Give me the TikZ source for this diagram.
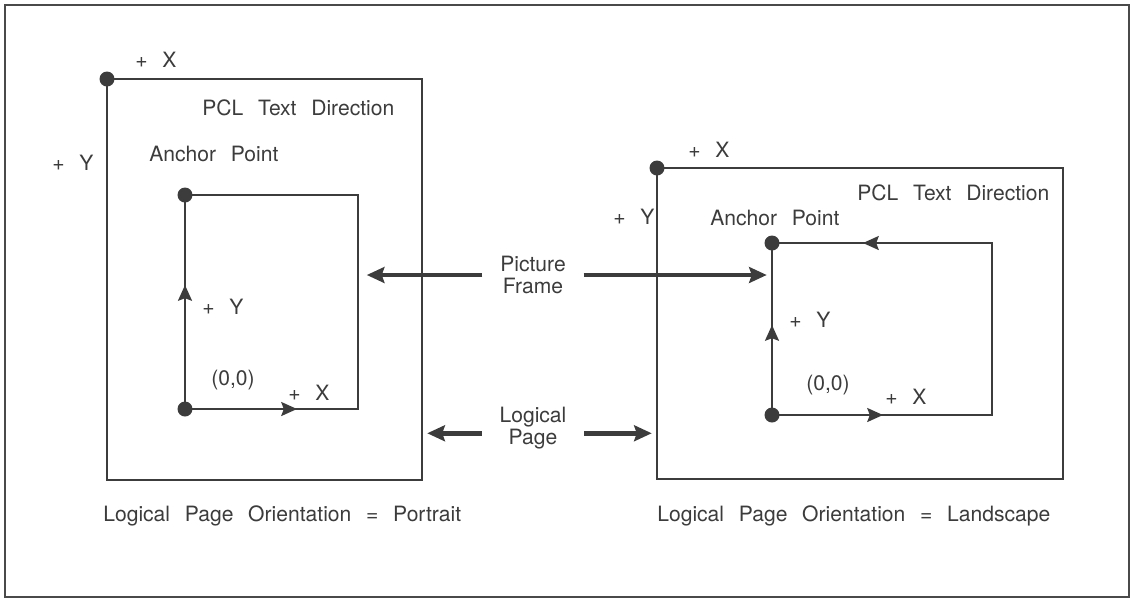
\documentclass[tikz,border=0pt]{standalone}
\usepackage{fontspec}
\setmainfont{TeX Gyre Heros}
\usepackage{xcolor}
\usetikzlibrary{arrows.meta,positioning}
\definecolor{ink}{HTML}{3C3C3C}
\definecolor{rim}{HTML}{4A4A4A}
\newcommand{\pclfont}{\fontsize{12}{12.5}\selectfont\spaceskip=0.7em plus 0.1em minus 0.1em}
\tikzset{
  pg/.style={draw=ink, line width=1.1pt},
  rimline/.style={draw=rim, line width=1.2pt},
  dot/.style={circle, fill=ink, inner sep=0pt, minimum size=3mm},
  tip/.style={-{Stealth[length=9pt,width=8pt,inset=1.5pt]}},
  ptr/.style={draw=ink, line width=2.6pt, -{Stealth[length=10pt,width=9pt,inset=1.5pt]}},
  lbl/.style={font=\pclfont, text=ink, inner sep=0pt, anchor=west},
  mid/.style={font=\pclfont, text=ink, align=center, inner xsep=10pt, inner ysep=0pt},
}

\begin{document}
\begin{tikzpicture}[x=0.02cm, y=-0.02cm]
  \useasboundingbox (0,0) rectangle (1134,600);
  \draw[rimline] (5,5) rectangle (1129,597);
  \draw[rim, line width=1.6pt] (5,5) -- (1129,5);

  % portrait page
  \coordinate (lpNW) at (107,79);
  \coordinate (lpSE) at (422,480);
  \draw[pg] (lpNW) rectangle (lpSE);
  \node[dot] (lpO) at (lpNW) {};
  \node[lbl] (lpX) at (135,60) {+ X};
  \node[lbl] (lpY) at (52,163) {+ Y};
  \node[lbl] (lpDir) at (202,108) {PCL Text Direction};
  \node[lbl] (lpAnc) at (149,154) {Anchor Point};

  % portrait picture frame
  \coordinate (lfNW) at (185,195);
  \coordinate (lfSE) at (358,409);
  \coordinate (lfYt) at (185,285);
  \coordinate (lfXt) at (297,409);
  \draw[pg] (lfNW) rectangle (lfSE);
  \node[dot] (lfA) at (lfNW) {};
  \node[dot] (lfO) at (lfNW |- lfSE) {};
  \draw[pg, tip] (lfO.center) -- (lfYt);
  \draw[pg, tip] (lfO.center) -- (lfXt);
  \node[lbl] (lfY) at (202,307) {+ Y};
  \node[lbl] (lfOr) at (211,380) {(0,0)};
  \node[lbl] (lfX) at (288,393) {+ X};

  % landscape page
  \coordinate (rpNW) at (657,168);
  \coordinate (rpSE) at (1063,479);
  \draw[pg] (rpNW) rectangle (rpSE);
  \node[dot] (rpO) at (rpNW) {};
  \node[lbl] (rpX) at (688,150) {+ X};
  \node[lbl] (rpY) at (613,217) {+ Y};
  \node[lbl] (rpDir) at (857,193) {PCL Text Direction};
  \node[lbl] (rpAnc) at (710,218) {Anchor Point};

  % landscape picture frame
  \coordinate (rfNW) at (772,243);
  \coordinate (rfSE) at (992,415);
  \coordinate (rfYt) at (772,325);
  \coordinate (rfXt) at (883,415);
  \coordinate (rfTt) at (863,243);
  \draw[pg] (rfNW) rectangle (rfSE);
  \node[dot] (rfA) at (rfNW) {};
  \node[dot] (rfO) at (rfNW |- rfSE) {};
  \draw[pg, tip] (rfO.center) -- (rfYt);
  \draw[pg, tip] (rfO.center) -- (rfXt);
  \draw[pg, tip] (rfNW -| rfSE) -- (rfTt);
  \node[lbl] (rfY) at (789,320) {+ Y};
  \node[lbl] (rfOr) at (806,385) {(0,0)};
  \node[lbl] (rfX) at (885,397) {+ X};

  % labels in the middle
  \node[mid] (pf) at (533,275) {Picture\\Frame};
  \node[mid] (lg) at (533,428) {Logical\\Page};
  \draw[ptr, shorten >=5pt] (pf.west) -- (pf.west -| lfSE);
  \draw[ptr, shorten >=3pt] (pf.east) -- (pf.east -| rfNW);
  \draw[ptr, shorten >=3pt] ([yshift=-3pt]lg.west) -- ([yshift=-3pt]lg.west -| lpSE);
  \draw[ptr, shorten >=3pt] ([yshift=-3pt]lg.east) -- ([yshift=-3pt]lg.east -| rpNW);

  % captions
  \node[lbl] (lpCap) at (103,516) {Logical Page Orientation = Portrait};
  \node[lbl] (rpCap) at (657,516) {Logical Page Orientation = Landscape};
\end{tikzpicture}
\end{document}
